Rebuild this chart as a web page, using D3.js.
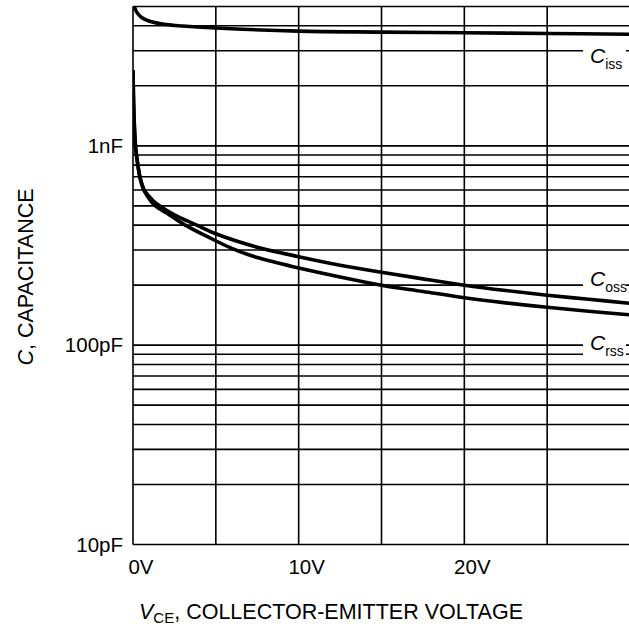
<!DOCTYPE html>
<html>
<head>
<meta charset="utf-8">
<script src="https://cdn.jsdelivr.net/npm/d3@7"></script>
<style>
  html, body { margin: 0; padding: 0; background: #fff; }
  svg { display: block; font-family: "Liberation Sans", Arial, sans-serif; }
</style>
</head>
<body>
<div id="chart"></div>
<script>
// voltage (V) and capacitance (pF)
const cissV = [0.03, 0.1, 0.25, 0.5, 1, 2, 3, 5, 10, 15, 20, 25, 30];
const cissC = [5600, 4950, 4650, 4420, 4220, 4060, 3990, 3900, 3760, 3720, 3690, 3660, 3630];

const cossV = [0, 0.05, 0.15, 0.3, 0.42, 0.68, 0.95, 1.25, 1.6, 2.5, 3.85, 5, 7.5, 10, 12.5, 15, 17.5, 20, 22.5, 25, 27.5, 30];
const cossC = [2400, 1500, 1000, 800, 700, 600, 560, 527, 500, 450, 400, 362, 310, 278, 252, 232, 215, 200, 188, 178, 170, 162];

const crssV = [0, 0.05, 0.15, 0.3, 0.42, 0.65, 0.9, 1.1, 1.35, 2.2, 3.15, 4.5, 6, 7.5, 10, 12.5, 15, 17.5, 20, 22.5, 25, 27.5, 30];
const crssC = [2400, 1500, 990, 790, 690, 600, 555, 525, 500, 450, 400, 350, 305, 275, 244, 220, 200, 186, 173, 163, 155, 148, 142];

const xTicks = [0, 10, 20];
const xGrid = [0, 5, 10, 15, 20, 25, 30];
const yTicks = [10, 100, 1000];
const yTickLabels = ['10pF', '100pF', '1nF'];
const yGrid = [10, 20, 30, 40, 50, 60, 70, 80, 90, 100, 200, 300, 400, 500, 600, 700, 800, 900, 1000, 2000, 3000, 4000, 5000];

// curve labels at the right edge (capacitance level of the text baseline)
const labelNames = ['iss', 'oss', 'rss'];
const labelValues = [2600, 198, 95];

const width = 629, height = 626;
const x = d3.scaleLinear().domain([0, 30]).range([133, 630]);
const y = d3.scaleLog().domain([10, 5000]).range([544.5, 6.5]);

const svg = d3.select('#chart').append('svg')
    .attr('width', width)
    .attr('height', height);

svg.append('clipPath').attr('id', 'plot')
  .append('rect')
    .attr('x', x(0)).attr('y', y(5000))
    .attr('width', x(30) - x(0)).attr('height', y(10) - y(5000));

const grid = svg.append('g').attr('stroke', '#000').attr('stroke-width', 1.6);

grid.selectAll('.h').data(yGrid).join('line')
    .attr('x1', x(0)).attr('x2', x(30))
    .attr('y1', d => y(d)).attr('y2', d => y(d));

grid.selectAll('.v').data(xGrid).join('line')
    .attr('x1', d => x(d)).attr('x2', d => x(d))
    .attr('y1', y(5000)).attr('y2', y(10));

// white boxes that break the grid lines behind the curve labels
const labels = svg.append('g').selectAll('g')
  .data(d3.zip(labelNames, labelValues))
  .join('g')
    .attr('transform', d => `translate(${x(30) - 47},${y(d[1])})`);

labels.append('rect')
    .attr('x', 0).attr('y', -20)
    .attr('width', 43).attr('height', 28)
    .attr('fill', '#fff');

labels.append('text')
    .attr('x', 7)
    .attr('y', 0)
    .style('font-size', '21px')
    .each(function(d) {
      const t = d3.select(this);
      t.append('tspan').style('font-style', 'italic').text('C');
      t.append('tspan').attr('dy', 6).style('font-size', '14px').text(d[0]);
    });

// curves
const line = d3.line()
    .x(d => x(d[0]))
    .y(d => y(d[1]))
    .curve(d3.curveCatmullRom.alpha(0.5));

const series = [
  d3.zip(cissV, cissC),
  d3.zip(cossV, cossC),
  d3.zip(crssV, crssC)
];

svg.append('g').attr('clip-path', 'url(#plot)')
  .selectAll('path').data(series).join('path')
    .attr('d', line)
    .attr('fill', 'none')
    .attr('stroke', '#000')
    .attr('stroke-width', 3.6)
    .attr('stroke-linejoin', 'round');

// tick labels
svg.append('g').selectAll('text').data(xTicks).join('text')
    .attr('x', d => x(d) + 8)
    .attr('y', 574)
    .attr('text-anchor', 'middle')
    .style('font-size', '20.5px')
    .text(d => d + 'V');

svg.append('g').selectAll('text').data(d3.zip(yTicks, yTickLabels)).join('text')
    .attr('x', 123)
    .attr('y', d => y(d[0]) + 7)
    .attr('text-anchor', 'end')
    .style('font-size', '20.5px')
    .text(d => d[1]);

// axis titles
const xt = svg.append('text')
    .attr('x', 139)
    .attr('y', 619)
    .style('font-size', '21.5px');
xt.append('tspan').style('font-style', 'italic').text('V');
xt.append('tspan').attr('dy', 4).style('font-size', '15px').text('CE');
xt.append('tspan').attr('dy', -4).text(', COLLECTOR-EMITTER VOLTAGE');

const yt = svg.append('text')
    .attr('transform', 'translate(33,277) rotate(-90)')
    .attr('text-anchor', 'middle')
    .style('font-size', '21.5px');
yt.append('tspan').style('font-style', 'italic').text('C');
yt.append('tspan').text(', CAPACITANCE');
</script>
</body>
</html>
